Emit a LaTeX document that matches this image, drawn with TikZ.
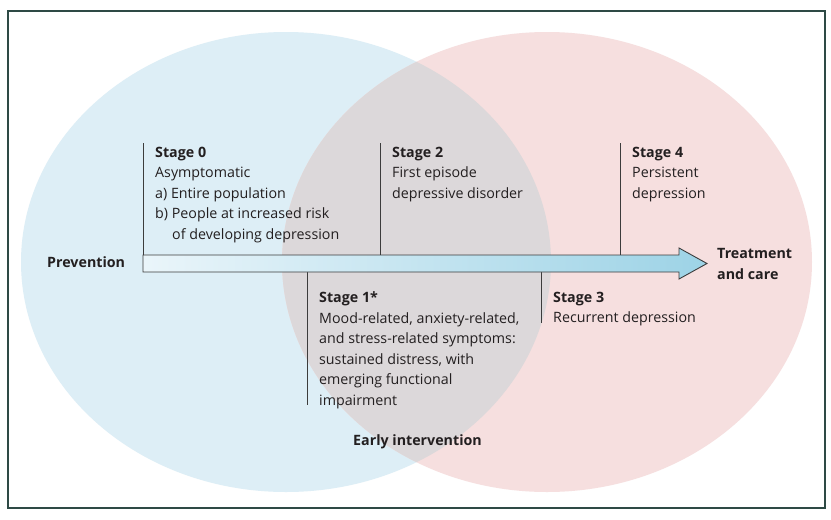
\documentclass[tikz,border=0pt]{standalone}
\usepackage{fontspec}
\setmainfont{Open Sans}
\definecolor{framec}{HTML}{2E4A45}
\definecolor{bluec}{HTML}{DDEEF6}
\definecolor{pinkc}{HTML}{F6DFDF}
\definecolor{greyc}{HTML}{DCD8DA}
\definecolor{ink}{HTML}{231F20}
\definecolor{arrowL}{HTML}{EAF5FA}
\definecolor{arrowR}{HTML}{9DD3E6}
\definecolor{linec}{HTML}{3C3C3C}
\begin{document}
\begin{tikzpicture}[x=1pt,y=-1pt,
  txt/.style={anchor=north west, inner sep=0pt, align=left, text=ink,
    font=\fontsize{14.25}{20.5}\selectfont},
  lbl/.style={anchor=base west, inner sep=0pt, text=ink,
    font=\fontsize{14.25}{20.5}\selectfont\bfseries},
  tick/.style={draw=linec, line width=0.9pt}]
\useasboundingbox (0,0) rectangle (831,520);
\fill[white] (0,0) rectangle (831,520);
% circles
\fill[bluec] (286,262) ellipse [x radius=265, y radius=230];
\fill[pinkc] (547,262) ellipse [x radius=265, y radius=230];
\begin{scope}
  \clip (286,262) ellipse [x radius=265, y radius=230];
  \fill[greyc] (547,262) ellipse [x radius=265, y radius=230];
\end{scope}
% frame
\draw[framec, line width=1.2pt] (8,11) rectangle (825,508);
% coordinates
\coordinate (s0t) at (143,143);
\coordinate (s0b) at (143,255);
\coordinate (s2t) at (380,143);
\coordinate (s2b) at (380,255);
\coordinate (s4t) at (620,143);
\coordinate (s4b) at (620,255);
\coordinate (s1t) at (307,272);
\coordinate (s1b) at (307,405);
\coordinate (s3t) at (541,272);
\coordinate (s3b) at (541,323);
% tick lines
\draw[tick] (s0t) -- (s0b);
\draw[tick] (s2t) -- (s2b);
\draw[tick] (s4t) -- (s4b);
\draw[tick] (s1t) -- (s1b);
\draw[tick] (s3t) -- (s3b);
% arrow
\shadedraw[left color=arrowL, right color=arrowR, draw=linec, line width=0.9pt, line join=miter]
  (143,255) -- (679,255) -- (679,248) -- (707,263.5) -- (679,279) -- (679,272) -- (143,272) -- cycle;
% texts
\node[txt] (st0) at (155,146.6) {\textbf{Stage 0}\\Asymptomatic\\a) Entire population\\b) People at increased risk\\\hspace*{17pt}of developing depression};
\node[txt] (st2) at (392,146.6) {\textbf{Stage 2}\\First episode\\depressive disorder};
\node[txt] (st4) at (632,146.6) {\textbf{Stage 4}\\Persistent\\depression};
\node[txt] (st1) at (319,291.6) {\textbf{Stage 1*}\\Mood-related, anxiety-related,\\and stress-related symptoms:\\sustained distress, with\\emerging functional\\impairment};
\node[txt] (st3) at (553,291.6) {\textbf{Stage 3}\\Recurrent depression};
\node[txt, font=\fontsize{14.25}{20.5}\selectfont\bfseries] (treat) at (717,248.6) {Treatment\\and care};
\node[lbl] (prev) at (47,267) {Prevention};
\node[lbl] (early) at (353,445) {Early intervention};
\end{tikzpicture}
\end{document}
